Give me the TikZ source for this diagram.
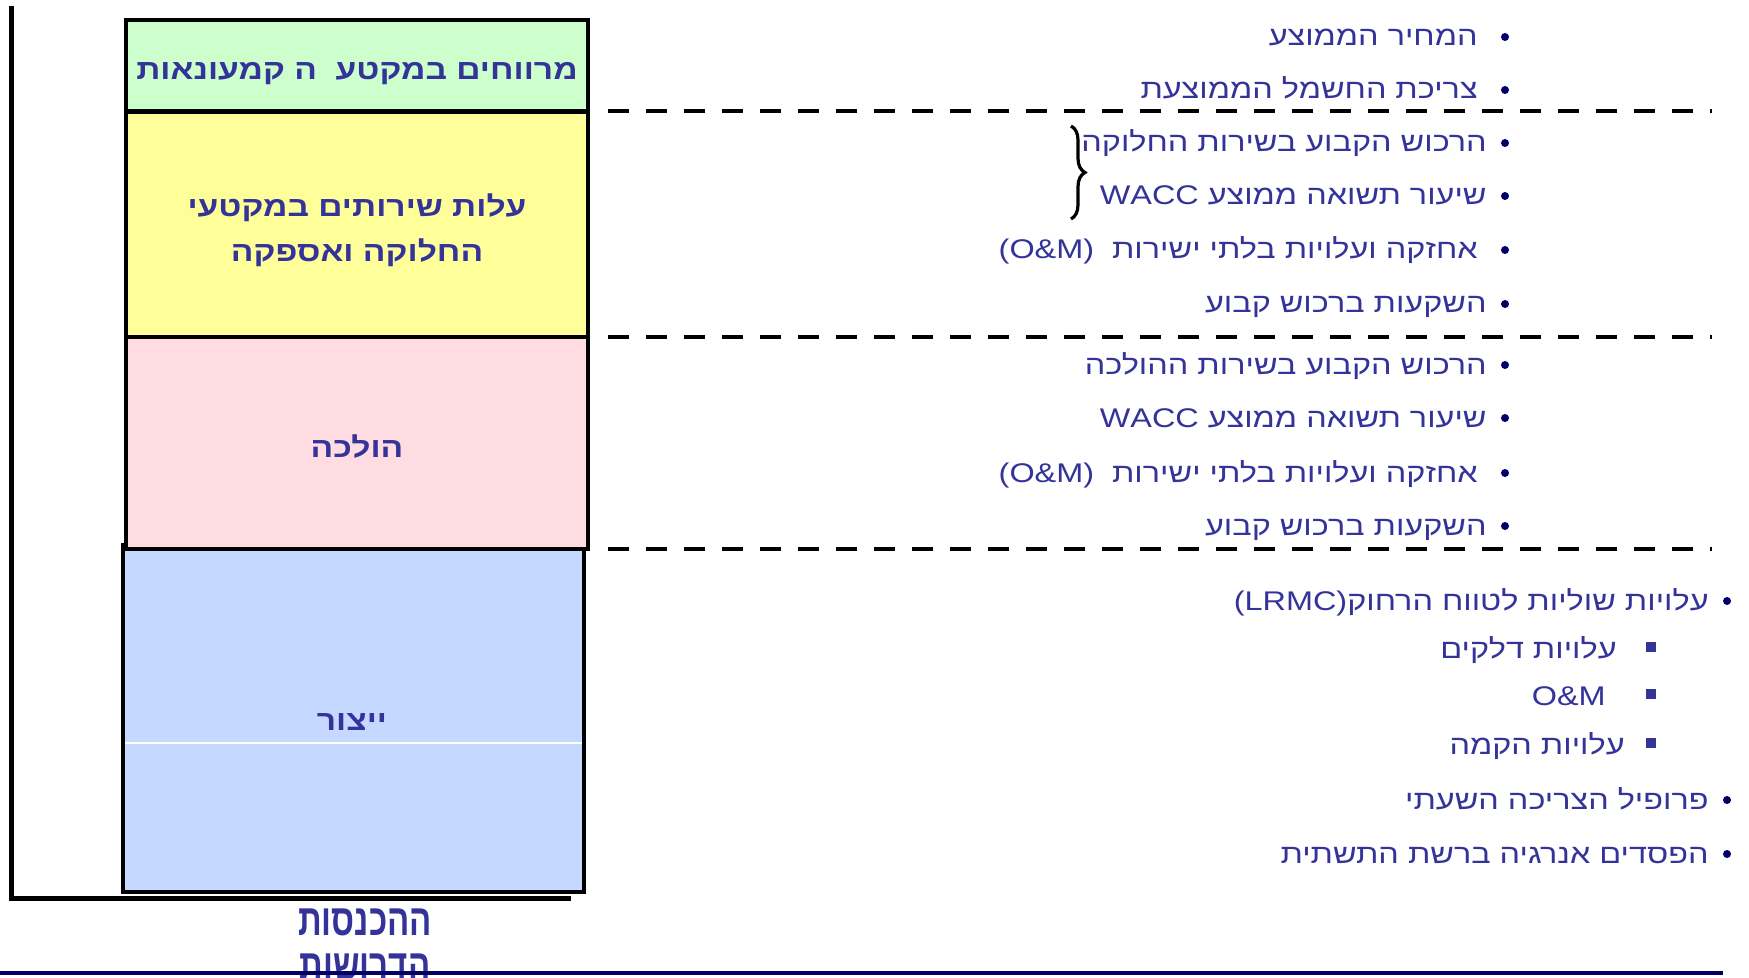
\documentclass[tikz,border=0pt]{standalone}
\usepackage{fontspec}
\usetikzlibrary{decorations.pathreplacing}
\TeXXeTstate=1
\newfontfamily\heb[Script=Hebrew,FakeStretch=1.2]{Liberation Sans}
\newfontfamily\hebnarrow[Script=Hebrew,FakeStretch=0.75]{Liberation Sans}
\definecolor{ink}{HTML}{333399}
\definecolor{navy}{HTML}{000066}
\definecolor{fgreen}{HTML}{CCFFCC}
\definecolor{fyellow}{HTML}{FFFF99}
\definecolor{fpink}{HTML}{FFDCE1}
\definecolor{fblue}{HTML}{C5D8FF}
\newcommand{\rtl}[1]{\beginR #1\endR}
\newcommand{\ltr}[1]{\beginL #1\endL}
\begin{document}
\begin{tikzpicture}[x=0.5pt,y=-0.5pt,
  layer/.style={draw=black, line width=2.4pt, inner sep=0pt},
  lbl/.style={inner sep=0pt, text=ink, align=center,
    font=\heb\bfseries\fontsize{14}{22.5}\selectfont},
  item/.style={anchor=base east, inner sep=0pt, text=ink,
    font=\heb\fontsize{13.5}{16}\selectfont},
  dot/.style={circle, fill=navy, inner sep=0pt, minimum size=4pt},
  sq/.style={rectangle, fill=ink, inner sep=0pt, minimum size=5pt},
  divider/.style={line width=2pt, dash pattern=on 10.5pt off 8.5pt},
  axis/.style={line width=2.5pt}]
\useasboundingbox (0,0) rectangle (1749,978);

% stacked cost layers
\node[layer, fill=fblue, minimum width=230.5pt, minimum height=173.5pt] (gen) at (353.5,718.5) {};
\draw[white, line width=0.6pt] (125,743) -- (582,743);
\node[lbl] (genlbl) at (352,722.5) {\rtl{ייצור}};
\node[layer, fill=fpink, minimum width=231pt, minimum height=106pt] (trans) at (357,443) {};
\node[lbl] (translbl) at (357,446.5) {\rtl{הולכה}};
\node[layer, fill=fyellow, minimum width=231pt, minimum height=112.75pt] (dist) at (357,224.25) {};
\node[lbl] (distlbl) at (357,230.5) {\rtl{עלות שירותים במקטעי}\\\rtl{החלוקה ואספקה}};
\node[layer, fill=fgreen, minimum width=231pt, minimum height=45.75pt] (retail) at (357,65.75) {};
\node[lbl] (retaillbl) at (357,73.5) {\rtl{מרווחים במקטע\ \ ה קמעונאות}};

% axes
\coordinate (ytop) at (11,6);
\coordinate (origin) at (11,898);
\coordinate (xend) at (571,898);
\draw[axis] (ytop) -- (origin) -- (xend);

% axis caption
\node[text=ink, font=\hebnarrow\bfseries\fontsize{22}{22}\selectfont, inner sep=0pt] (rev1) at (365,922) {\rtl{ההכנסות}};
\node[text=ink, font=\hebnarrow\bfseries\fontsize{22}{22}\selectfont, inner sep=0pt] (rev2) at (365,967) {\rtl{הדרושות}};

% bottom rule
\coordinate (ruleL) at (0,973);
\coordinate (ruleR) at (1723,973);
\draw[navy, line width=1.8pt] (ruleL) -- (ruleR);

% dashed separators
\coordinate (d1a) at (608,111.5); \coordinate (d1b) at (1712,111.5);
\coordinate (d2a) at (608,337);   \coordinate (d2b) at (1712,337);
\coordinate (d3a) at (608,549);   \coordinate (d3b) at (1712,549);
\draw[divider] (d1a) -- (d1b);
\draw[divider] (d2a) -- (d2b);
\draw[divider] (d3a) -- (d3b);

% retail drivers
\node[dot] (b1) at (1505,37) {};
\node[item] (t1) at (1478,46) {\rtl{המחיר הממוצע}};
\node[dot] (b2) at (1505,90) {};
\node[item] (t2) at (1478,99) {\rtl{צריכת החשמל הממוצעת}};

% distribution drivers
\node[dot] (b3) at (1505,143) {};
\node[item] (t3) at (1487,152) {\rtl{הרכוש הקבוע בשירות החלוקה}};
\node[dot] (b4) at (1505,196) {};
\node[item] (t4) at (1487,205) {\rtl{שיעור תשואה ממוצע \ltr{WACC}}};
\node[dot] (b5) at (1505,250) {};
\node[item] (t5) at (1478,259) {\rtl{אחזקה ועלויות בלתי ישירות\ \ \ltr{(O\&M)}}};
\node[dot] (b6) at (1505,304) {};
\node[item] (t6) at (1487,313) {\rtl{השקעות ברכוש קבוע}};
\coordinate (brTop) at (1071,126);
\coordinate (brBot) at (1071,219);
\draw[line width=1.6pt, decorate, decoration={brace, amplitude=7pt}] (brTop) -- (brBot);

% transmission drivers
\node[dot] (b7) at (1505,365) {};
\node[item] (t7) at (1487,374) {\rtl{הרכוש הקבוע בשירות ההולכה}};
\node[dot] (b8) at (1505,418) {};
\node[item] (t8) at (1487,427) {\rtl{שיעור תשואה ממוצע \ltr{WACC}}};
\node[dot] (b9) at (1505,473) {};
\node[item] (t9) at (1478,482) {\rtl{אחזקה ועלויות בלתי ישירות\ \ \ltr{(O\&M)}}};
\node[dot] (b10) at (1505,526) {};
\node[item] (t10) at (1487,535) {\rtl{השקעות ברכוש קבוע}};

% generation drivers
\node[dot] (b11) at (1727,601) {};
\node[item] (t11) at (1709,610) {\rtl{עלויות שוליות לטווח הרחוק\ltr{(LRMC)}}};
\node[sq] (s1) at (1651,647) {};
\node[item] (t12) at (1617,658) {\rtl{עלויות דלקים}};
\node[sq] (s2) at (1651,694) {};
\node[item] (t13) at (1606,705) {\ltr{O\&M}};
\node[sq] (s3) at (1651,743) {};
\node[item] (t14) at (1625,754) {\rtl{עלויות הקמה}};
\node[dot] (b12) at (1727,800) {};
\node[item] (t15) at (1709,809) {\rtl{פרופיל הצריכה השעתי}};
\node[dot] (b13) at (1727,854) {};
\node[item] (t16) at (1709,863) {\rtl{הפסדים אנרגיה ברשת התשתית}};
\end{tikzpicture}
\end{document}
